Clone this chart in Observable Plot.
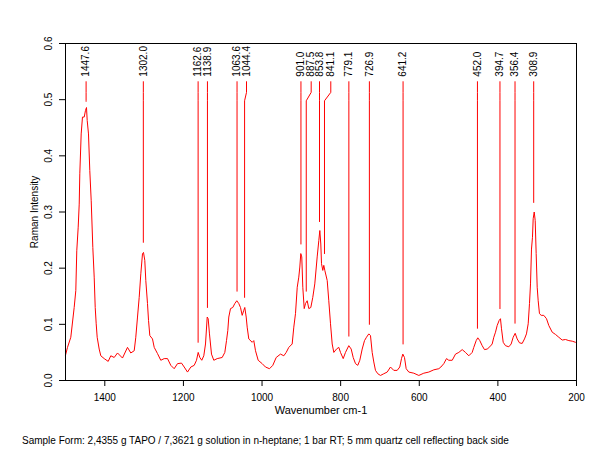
<!DOCTYPE html>
<html>
<head>
<meta charset="utf-8">
<script src="https://cdn.jsdelivr.net/npm/d3@7"></script>
<script src="https://cdn.jsdelivr.net/npm/@observablehq/plot@0.6"></script>
<style>
  html, body { margin: 0; padding: 0; background: #fff; }
  #caption { font-family: "Liberation Sans", Arial, sans-serif; font-size: 10px; color: #000; margin: 10px 0 0 22px; line-height: 12px; white-space: nowrap; }
</style>
</head>
<body>
<div id="chart"></div>
<div id="caption"></div>
<script>
// Spectrum (wavenumber cm-1, Raman intensity)
const wavenumber = [1500,1494.9,1486.5,1477.9,1473.8,1471.3,1467.7,1465.1,1463.6,1460.1,1456.8,1452.4,1449.1,1446.6,1444.8,1441.5,1438.2,1434.6,1430.5,1427.0,1424.4,1421.9,1419.4,1414.3,1410.2,1401.5,1391.4,1384.8,1376.1,1367.7,1355.0,1342.3,1333.9,1325.2,1321.2,1316.8,1312.5,1308.4,1304.1,1301.6,1298.3,1295.7,1291.4,1288.8,1285.5,1278.7,1274.3,1266.0,1257.6,1248.9,1240.5,1232.1,1223.5,1215.1,1204.9,1198.0,1189.6,1181.2,1172.6,1166.7,1162.4,1158.3,1153.3,1148.2,1143.8,1139.5,1137.0,1133.7,1128.6,1122.7,1114.1,1101.4,1094.7,1090.4,1087.1,1084.6,1080.2,1074.4,1069.3,1064.2,1059.1,1054.8,1050.5,1046.4,1043.9,1040.3,1037.8,1033.7,1025.0,1021.0,1016.6,1009.8,999.6,991.2,981.0,972.6,964.0,953.0,944.6,938.5,931.9,923.3,919.2,914.9,910.5,906.5,903.9,901.4,898.9,896.3,892.7,889.4,885.1,881.0,875.9,870.9,865.8,859.7,855.6,853.0,850.5,848.7,845.4,842.9,840.3,834.2,830.2,825.8,821.5,817.4,810.6,804.7,800.4,793.5,787.7,779.3,773.2,768.1,762.2,756.4,751.3,745.2,739.3,734.3,728.4,724.1,719.8,715.7,711.4,705.5,698.6,690.3,681.6,673.2,664.8,656.2,649.6,645.2,641.9,637.6,633.3,626.6,613.9,601.2,588.5,575.8,563.0,550.3,545.0,537.6,530.7,524.9,516.2,507.8,499.4,490.8,482.4,474.0,465.4,461.3,455.2,451.1,446.0,439.9,434.1,427.2,420.6,414.5,410.4,406.1,401.8,396.7,393.4,390.8,386.5,380.6,372.2,366.2,361.1,356.0,350.9,345.0,338.2,332.3,327.3,322.9,319.6,317.0,314.5,312.0,310.2,307.6,305.1,302.6,300.0,297.5,294.2,289.8,283.2,276.3,270.5,261.8,253.4,245.0,236.4,228.0,219.5,210.9,202.5,200];
const intensity = [0.045,0.059,0.077,0.130,0.160,0.231,0.273,0.314,0.368,0.439,0.469,0.469,0.481,0.486,0.463,0.439,0.374,0.320,0.237,0.184,0.130,0.101,0.077,0.056,0.044,0.039,0.034,0.044,0.041,0.049,0.040,0.059,0.049,0.053,0.077,0.113,0.148,0.190,0.226,0.228,0.214,0.178,0.137,0.107,0.080,0.074,0.059,0.048,0.036,0.039,0.039,0.027,0.021,0.030,0.031,0.024,0.015,0.024,0.027,0.036,0.050,0.041,0.036,0.044,0.065,0.113,0.110,0.083,0.047,0.036,0.039,0.041,0.050,0.071,0.089,0.113,0.128,0.130,0.137,0.142,0.137,0.130,0.116,0.125,0.130,0.113,0.095,0.074,0.068,0.071,0.053,0.036,0.030,0.024,0.021,0.027,0.041,0.047,0.044,0.050,0.059,0.065,0.095,0.119,0.166,0.184,0.202,0.226,0.220,0.166,0.128,0.137,0.142,0.128,0.130,0.148,0.172,0.220,0.249,0.267,0.243,0.208,0.196,0.205,0.196,0.178,0.142,0.101,0.065,0.050,0.056,0.059,0.050,0.039,0.050,0.062,0.056,0.041,0.030,0.027,0.036,0.056,0.071,0.077,0.083,0.080,0.050,0.033,0.018,0.012,0.009,0.012,0.015,0.024,0.018,0.018,0.024,0.039,0.047,0.041,0.021,0.015,0.013,0.009,0.013,0.015,0.019,0.021,0.024,0.030,0.039,0.036,0.036,0.047,0.050,0.055,0.050,0.044,0.050,0.059,0.071,0.076,0.071,0.062,0.055,0.056,0.060,0.065,0.077,0.086,0.098,0.107,0.110,0.092,0.068,0.062,0.060,0.065,0.077,0.084,0.074,0.067,0.066,0.074,0.083,0.101,0.137,0.172,0.234,0.255,0.288,0.300,0.285,0.226,0.166,0.142,0.119,0.116,0.116,0.110,0.098,0.086,0.082,0.077,0.072,0.073,0.071,0.070,0.068,0.068];

// Peak annotations
const peakLabels = ["1447.6","1302.0","1162.6","1138.9","1063.6","1044.4","901.0","887.5","853.8","841.1","779.1","726.9","641.2","452.0","394.7","356.4","308.9"];
const peakPos = [1447.6,1302.0,1162.6,1138.9,1063.6,1044.4,901.0,887.5,853.8,841.1,779.1,726.9,641.2,452.0,394.7,356.4,308.9];
const labelPos = [1447.6,1302.0,1162.6,1138.9,1063.6,1039.5,901.0,875.0,853.8,825.1,779.1,726.9,641.2,452.0,394.7,356.4,308.9];
const peakLineEnd = [0.497,0.246,0.068,0.130,0.159,0.148,0.243,0.159,0.283,0.226,0.079,0.100,0.065,0.093,0.128,0.102,0.317];

const xTicks = [1400,1200,1000,800,600,400,200];
const yTicks = [0.0,0.1,0.2,0.3,0.4,0.5,0.6];
const xLabel = "Wavenumber cm-1";
const yLabel = "Raman Intensity";
const caption = "Sample Form:  2,4355 g  TAPO / 7,3621 g solution in n-heptane;  1 bar RT;  5 mm quartz cell reflecting back side";

const spectrum = wavenumber.map((w, i) => ({w, v: intensity[i]}));
const peakLines = [];
peakLabels.forEach((lab, i) => {
  peakLines.push({id: lab, w: labelPos[i], v: 0.532});
  peakLines.push({id: lab, w: labelPos[i], v: 0.513});
  peakLines.push({id: lab, w: peakPos[i], v: 0.498});
  peakLines.push({id: lab, w: peakPos[i], v: peakLineEnd[i]});
});
const peaks = peakLabels.map((lab, i) => ({lab, w: labelPos[i]}));

const font = "'Liberation Sans', Arial, sans-serif";
const chart = Plot.plot({
  width: 605,
  height: 425,
  marginLeft: 65,
  marginRight: 29,
  marginTop: 43,
  marginBottom: 45,
  style: {fontFamily: font, fontSize: "10px", background: "#fff", color: "#000", overflow: "visible"},
  x: {domain: [1500, 200]},
  y: {domain: [0, 0.6]},
  marks: [
    Plot.axisX({ticks: xTicks, tickSize: 6, tickPadding: 7, tickFormat: d => String(d), label: null, stroke: "#000"}),
    Plot.axisY({ticks: yTicks, tickSize: 6, tickFormat: () => "", label: null, stroke: "#000"}),
    Plot.text(yTicks, {y: d => d, frameAnchor: "left", dx: -17, rotate: -90, textAnchor: "middle", text: d => d.toFixed(1), fill: "#000"}),
    Plot.text([yLabel], {frameAnchor: "left", dx: -31, rotate: -90, textAnchor: "middle", text: d => d, fill: "#000"}),
    Plot.text([xLabel], {frameAnchor: "bottom", dy: 33, textAnchor: "middle", text: d => d, fill: "#000", fontSize: 11}),
    Plot.line(peakLines, {x: "w", y: "v", z: "id", stroke: "#ff0000", strokeWidth: 1}),
    Plot.text(peaks, {x: "w", y: 0.541, text: "lab", rotate: -90, textAnchor: "start", fill: "#000"}),
    Plot.line(spectrum, {x: "w", y: "v", stroke: "#ff0000", strokeWidth: 1}),
    Plot.frame({stroke: "#000", strokeWidth: 1})
  ]
});
document.getElementById("chart").appendChild(chart);
document.getElementById("caption").textContent = caption;
</script>
</body>
</html>
